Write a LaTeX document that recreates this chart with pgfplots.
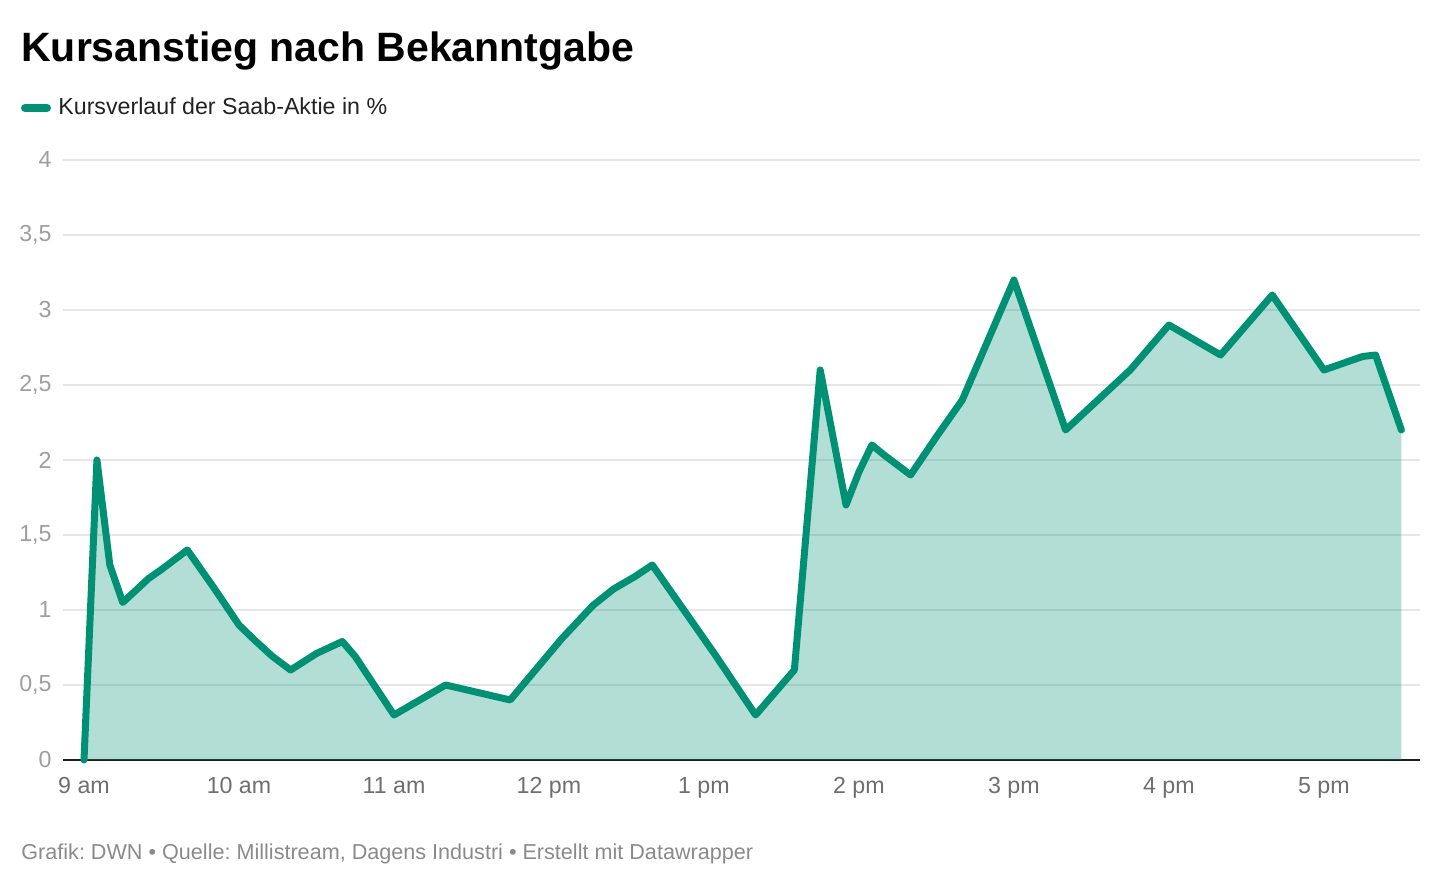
\documentclass[border=0pt]{standalone}
\usepackage{pgfplots}
\pgfplotsset{compat=1.18}
\usepackage{pgfplotstable}
\usepackage{fontspec}
\setmainfont{Liberation Sans}
\frenchspacing
\definecolor{saab}{RGB}{0,145,117}
\definecolor{gridgray}{RGB}{230,230,230}
\definecolor{basegray}{RGB}{29,29,29}
\definecolor{ygray}{RGB}{158,158,158}
\definecolor{xgray}{RGB}{110,110,110}
\definecolor{footgray}{RGB}{138,138,138}
\definecolor{legtext}{RGB}{34,34,34}

\pgfplotstableread{
t v
0 0
5 2.0
10 1.3
15 1.05
25 1.21
30 1.27
40 1.40
50 1.155
60 0.9
66 0.8
73 0.69
80 0.6
90 0.71
100 0.79
105 0.69
120 0.3
140 0.5
165 0.4
185 0.81
197 1.03
205 1.14
213 1.22
220 1.30
244 0.71
260 0.3
275 0.6
285 2.6
295 1.7
300 1.92
305 2.1
310 2.03
320 1.9
330 2.155
340 2.4
360 3.2
380 2.2
405 2.6
420 2.9
440 2.7
460 3.1
480 2.6
485 2.63
495 2.69
500 2.7
510 2.2
}\kurs

\begin{document}
\begin{tikzpicture}
\begin{axis}[
  at={(0,0)}, anchor=south west,
  scale only axis, width=678.5pt, height=300pt,
  xmin=-8.13, xmax=517.2, ymin=0, ymax=4,
  xtick={0,60,120,180,240,300,360,420,480},
  xticklabels={9 am,10 am,11 am,12 pm,1 pm,2 pm,3 pm,4 pm,5 pm},
  ytick={0,0.5,1,1.5,2,2.5,3,3.5,4},
  ymajorgrids, grid style={color=gridgray, line width=1pt},
  extra y ticks={0}, extra y tick labels={},
  extra y tick style={grid style={color=basegray, line width=1.2pt}},
  axis line style={draw=none}, major tick length=0pt,
  tick label style={font=\fontsize{11.6}{13}\selectfont},
  yticklabel style={anchor=east, inner sep=0pt, xshift=-5.5pt, text=ygray},
  xticklabel style={anchor=base, inner sep=0pt, yshift=-16.8pt, text=xgray},
  /pgf/number format/assume math mode=true,
  /pgf/number format/use comma,
  clip=false,
]
\addplot[draw=none, fill=saab, fill opacity=0.3] table[x=t,y=v] {\kurs} \closedcycle;
\addplot[line width=3.5pt, color=saab, line join=round, line cap=round] table[x=t,y=v] {\kurs};
\end{axis}
\path[use as bounding box] (-31.5pt,-63pt) rectangle (688.5pt,380pt);
\node[anchor=base west, inner sep=0pt, text=black] at (-21pt,349pt)
  {\fontsize{20.5}{25}\selectfont\bfseries Kursanstieg nach Bekanntgabe};
\draw[saab, line width=4pt, line cap=round] (-19pt,326pt) -- (-8pt,326pt);
\node[anchor=base west, inner sep=0pt, text=legtext] at (-2.5pt,322.5pt)
  {\fontsize{11.6}{14}\selectfont Kursverlauf der Saab-Aktie in \%};
\node[anchor=base west, inner sep=0pt, text=footgray] at (-21pt,-50pt)
  {\fontsize{10.8}{13}\selectfont Grafik: DWN • Quelle: Millistream, Dagens Industri • Erstellt mit Datawrapper};
\end{tikzpicture}
\end{document}
